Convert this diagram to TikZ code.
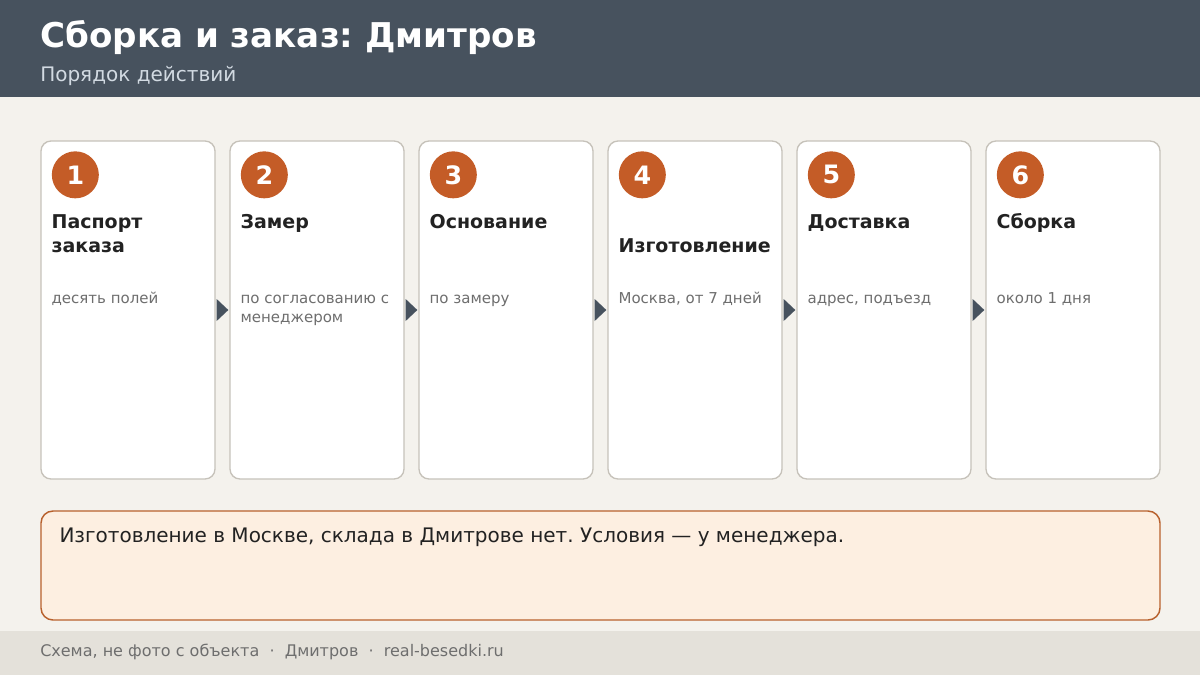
\documentclass[tikz,border=0pt]{standalone}
\usepackage{fontspec}
\setmainfont{DejaVu Sans}
\usetikzlibrary{calc}
\frenchspacing

\definecolor{headbg}{HTML}{47525E}
\definecolor{subtxt}{HTML}{D2DAE2}
\definecolor{pagebg}{HTML}{F4F2ED}
\definecolor{footbg}{HTML}{E4E1DA}
\definecolor{cardline}{HTML}{C6C2BA}
\definecolor{badge}{HTML}{C45C27}
\definecolor{darktxt}{HTML}{222222}
\definecolor{greytxt}{HTML}{6E6E6E}
\definecolor{notebg}{HTML}{FDEFE1}
\definecolor{noteline}{HTML}{B8612D}

\tikzset{
  card/.style={draw=cardline, line width=1pt, fill=white, rounded corners=7.5pt,
    minimum width=130.5pt, minimum height=253.5pt, inner sep=0pt},
  badgedot/.style={circle, fill=badge, minimum size=35.25pt, inner sep=0pt,
    text=white, font=\fontsize{19}{21}\selectfont\bfseries},
  steptitle/.style={anchor=base west, inner sep=0pt, align=left, text=darktxt,
    font=\fontsize{14.25}{18}\selectfont\bfseries},
  stepnote/.style={anchor=base west, inner sep=0pt, align=left, text=greytxt,
    font=\fontsize{11.25}{14.25}\selectfont},
  flowtip/.style={fill=headbg},
  notebox/.style={draw=noteline, line width=1.1pt, fill=notebg, rounded corners=9pt,
    minimum width=839.25pt, minimum height=81.75pt, inner sep=0pt}
}

\begin{document}
\begin{tikzpicture}[x=0.75pt,y=-0.75pt]
  \useasboundingbox (0,0) rectangle (1200,675);
  \fill[pagebg] (0,0) rectangle (1200,675);

  % header
  \fill[headbg] (0,0) rectangle (1200,97);
  \node[anchor=base west, inner sep=0pt, text=white, font=\fontsize{25.6}{28}\selectfont\bfseries]
    (title) at (40,47) {Сборка и заказ: Дмитров};
  \node[anchor=base west, inner sep=0pt, text=subtxt, font=\fontsize{15}{18}\selectfont]
    (subtitle) at (40,81) {Порядок действий};

  % steps (base anchor = last line)
  \foreach \i/\ttl/\dsc/\dy/\dz in {
      1/{Паспорт\\заказа}/{десять полей}/24/0,
      2/{Замер}/{по согласованию с\\менеджером}/0/19,
      3/{Основание}/{по замеру}/0/0,
      4/{Изготовление}/{Москва, от 7 дней}/24/0,
      5/{Доставка}/{адрес, подъезд}/0/0,
      6/{Сборка}/{около 1 дня}/0/0} {
    \node[card] (c\i) at ({128+189*(\i-1)},310) {};
    \node[badgedot] (b\i) at ($(c\i.north west)+(35,34.5)$) {\i};
    \node[steptitle] (t\i) at ($(c\i.north west)+(11,88+\dy)$) {\ttl};
    \node[stepnote] (d\i) at ($(c\i.north west)+(11,163+\dz)$) {\dsc};
  }

  % arrows between cards
  \foreach \i [evaluate=\i as \j using int(\i+1)] in {1,...,5}
    \fill[flowtip] ($(c\i.east)+(1,-11)$) -- ($(c\j.west)+(-1,0)$) -- ($(c\i.east)+(1,11)$) -- cycle;

  % note
  \node[notebox] (note) at (600.5,565.5) {};
  \node[anchor=base west, inner sep=0pt, text=darktxt, font=\fontsize{15}{18}\selectfont]
    (notetext) at ($(note.north west)+(19,32)$)
    {Изготовление в Москве, склада в Дмитрове нет. Условия — у менеджера.};

  % footer
  \fill[footbg] (0,631) rectangle (1200,675);
  \node[anchor=base west, inner sep=0pt, text=greytxt, font=\fontsize{12}{14}\selectfont]
    (footer) at (40,656) {Схема, не фото с объекта~~·~~Дмитров~~·~~real-besedki.ru};
\end{tikzpicture}
\end{document}
